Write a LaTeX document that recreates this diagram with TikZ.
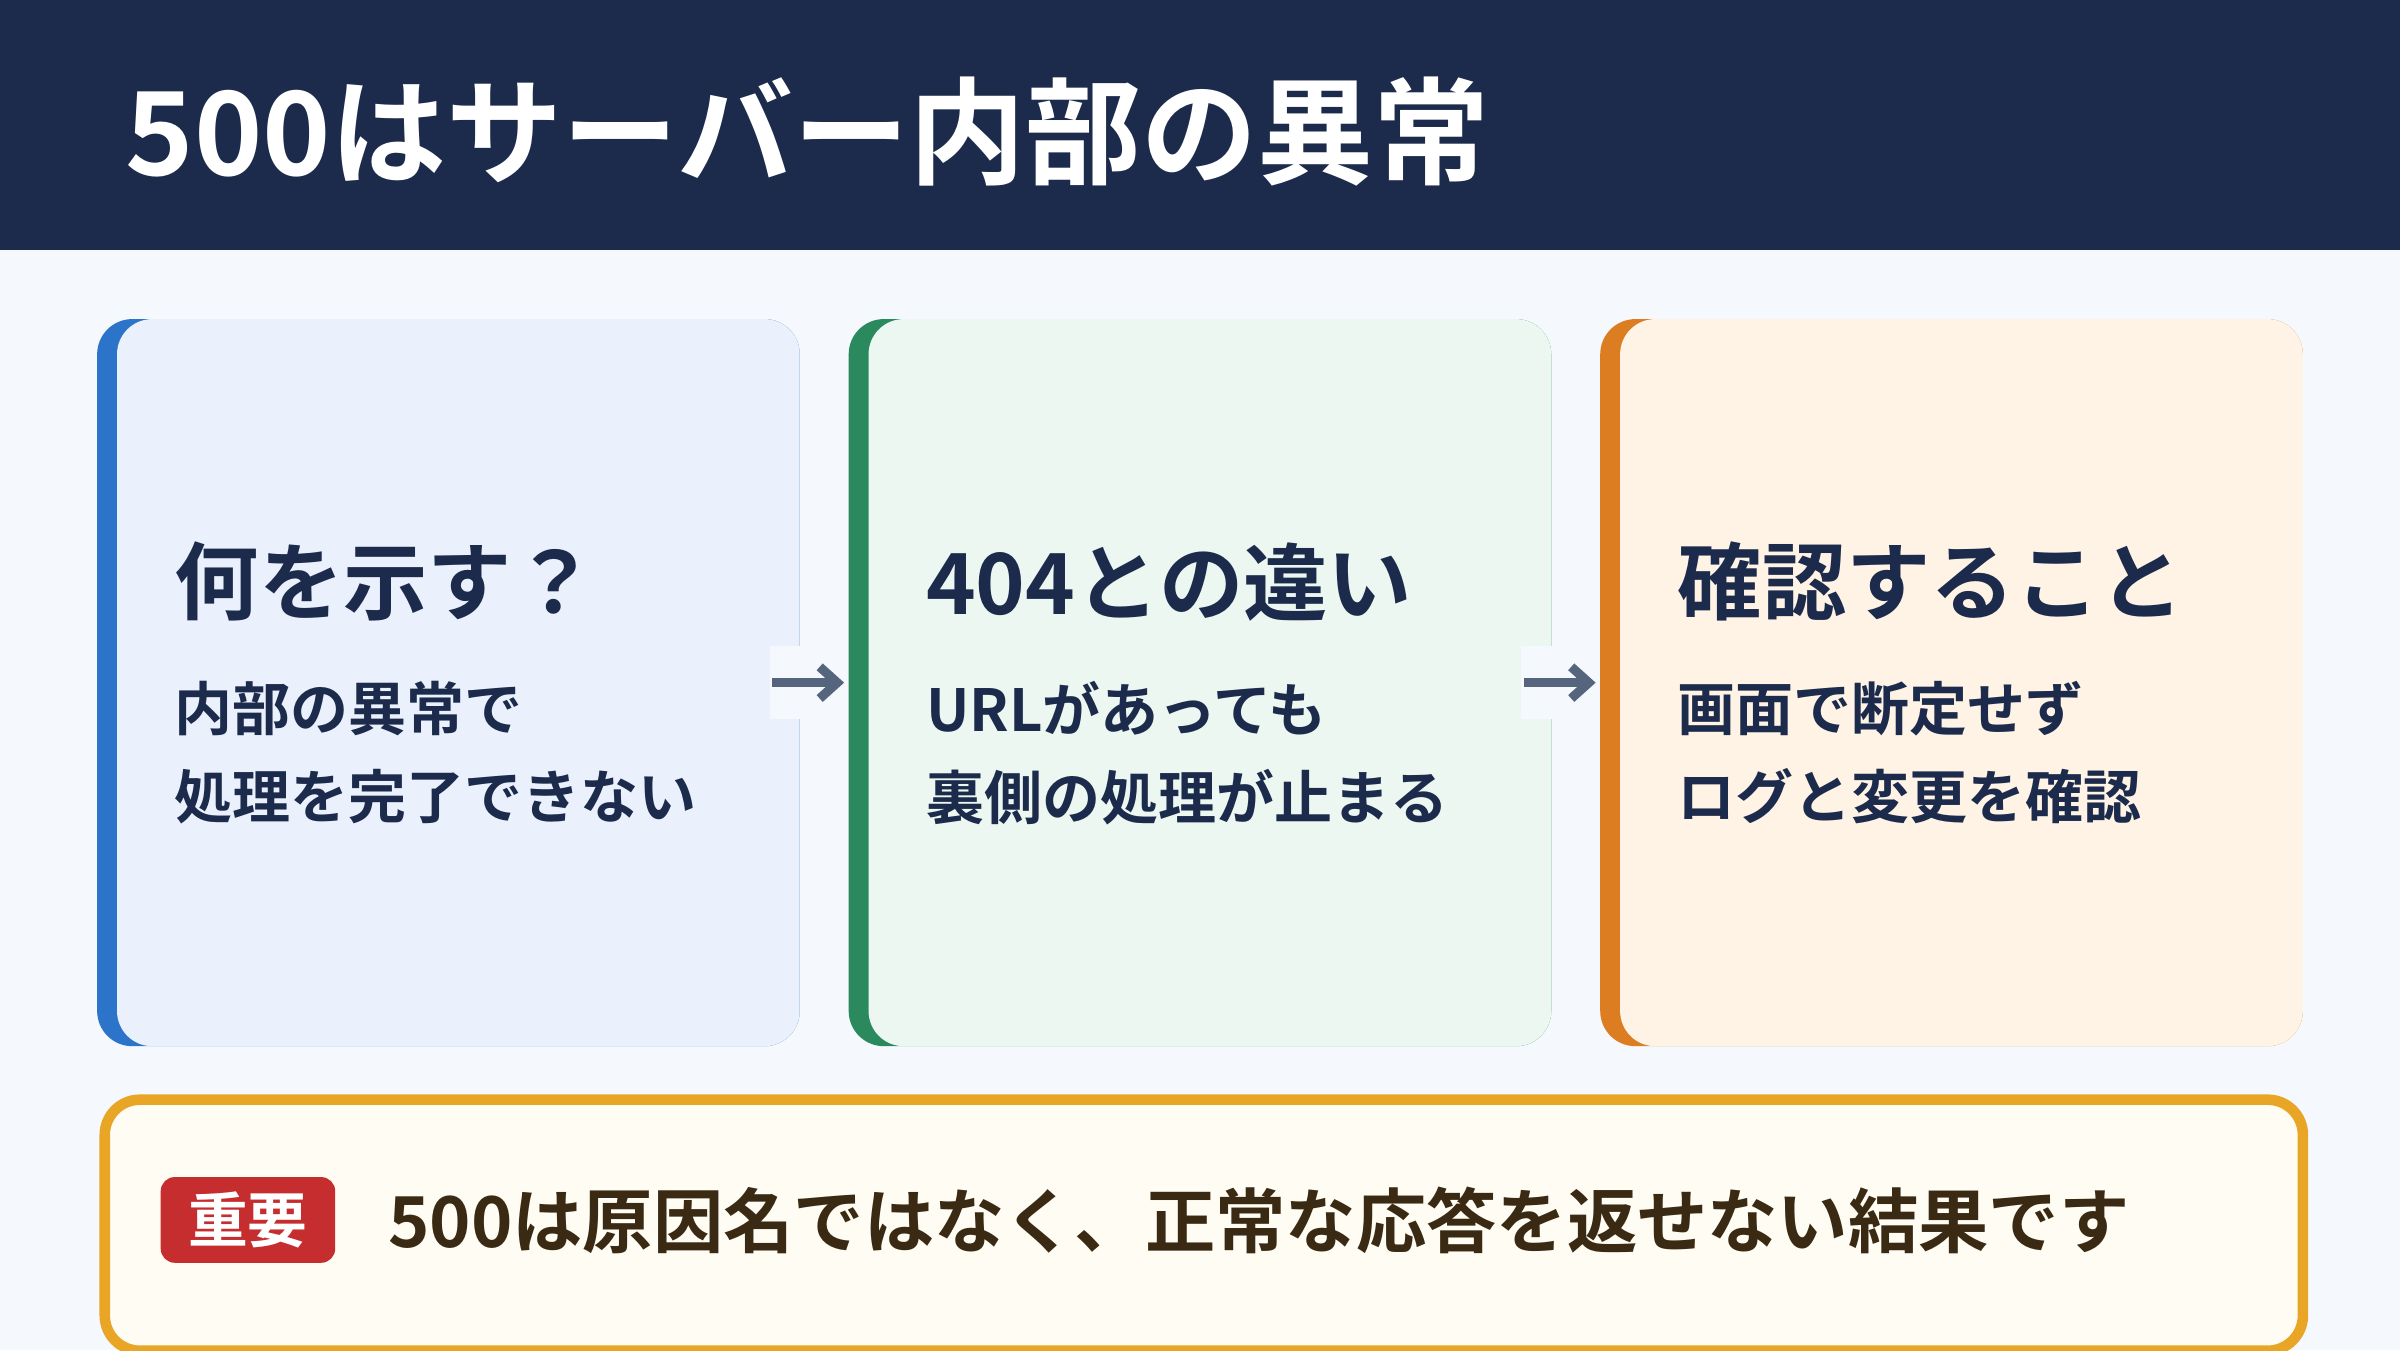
\documentclass[tikz,border=0pt]{standalone}
\usepackage{fontspec}
\setmainfont{Noto Sans CJK JP}[BoldFont={* Bold}]
\usetikzlibrary{positioning, arrows.meta}
\definecolor{navy}{HTML}{1C2B4B}
\definecolor{pagebg}{HTML}{F5F8FC}
\definecolor{blueA}{HTML}{2C74C9}\definecolor{blueF}{HTML}{EAF1FD}
\definecolor{greenA}{HTML}{2A8A5E}\definecolor{greenF}{HTML}{ECF7F1}
\definecolor{orangeA}{HTML}{DD7D22}\definecolor{orangeF}{HTML}{FEF3E4}
\definecolor{noteD}{HTML}{E8A526}\definecolor{noteF}{HTML}{FEFCF3}
\definecolor{badge}{HTML}{C62D2F}\definecolor{brownT}{HTML}{3A2A14}
\definecolor{arrowC}{HTML}{56657E}
\tikzset{
    accent/.style={rectangle, rounded corners=10pt, minimum width=459\pxu, minimum height=475\pxu, inner sep=0pt},
    card/.style={rectangle, rounded corners=10pt, minimum width=446\pxu, minimum height=475\pxu, inner sep=0pt},
    ctitle/.style={font=\bfseries\fontsize{24}{28}\selectfont, color=navy, anchor=west},
    cbody/.style={font=\bfseries\fontsize{16.5}{25}\selectfont, color=navy, anchor=north west, align=left},
    arr/.style={-{Straight Barb[length=5pt,width=9pt]}, line width=2.6pt, color=arrowC},
}
\newlength{\pxu}\setlength{\pxu}{0.15306mm}
\begin{document}
\begin{tikzpicture}[x=0.015306cm, y=-0.015306cm]
    \useasboundingbox (0,0) rectangle (1568,882);
    \fill[pagebg] (0,0) rectangle (1568,882);
    \fill[navy] (0,0) rectangle (1568,163);
    \node[anchor=west, text=white, font=\bfseries\fontsize{33}{38}\selectfont] (title) at (74,86) {500はサーバー内部の異常};

    % --- cards ---
    \node[accent, fill=blueA, anchor=north west] (b1) at (63,208) {};
    \node[card, fill=blueF, anchor=north east] (c1) at (b1.north east) {};
    \node[accent, fill=greenA, anchor=north west] (b2) at (554,208) {};
    \node[card, fill=greenF, anchor=north east] (c2) at (b2.north east) {};
    \node[accent, fill=orangeA, anchor=north west] (b3) at (1045,208) {};
    \node[card, fill=orangeF, anchor=north east] (c3) at (b3.north east) {};

    \node[ctitle] (t1) at (106,380) {何を示す？};
    \node[cbody] (d1) at (106,437) {内部の異常で\\処理を完了できない};
    \node[ctitle] (t2) at (597,380) {404との違い};
    \node[cbody] (d2) at (597,437) {URLがあっても\\裏側の処理が止まる};
    \node[ctitle] (t3) at (1088,380) {確認すること};
    \node[cbody] (d3) at (1088,437) {画面で断定せず\\ログと変更を確認};

    % --- arrows between cards ---
    \node[fill=pagebg, minimum width=50\pxu, minimum height=48\pxu, inner sep=0pt] (g1) at (528,446) {};
    \node[fill=pagebg, minimum width=50\pxu, minimum height=48\pxu, inner sep=0pt] (g2) at (1019,446) {};
    \draw[arr] ([xshift=2\pxu]g1.west) -- ([xshift=-2\pxu]g1.east);
    \draw[arr] ([xshift=2\pxu]g2.west) -- ([xshift=-2\pxu]g2.east);

    % --- note ---
    \node[draw=noteD, line width=3pt, fill=noteF, rounded corners=10pt, minimum width=1436\pxu, minimum height=164\pxu, anchor=north west] (note) at (65,715) {};
    \node[fill=badge, rounded corners=4pt, minimum width=114\pxu, minimum height=56\pxu, text=white, font=\bfseries\fontsize{17}{20}\selectfont] (imp) at (162,797) {重要};
    \node[right=26\pxu of imp, font=\bfseries\fontsize{20}{24}\selectfont, text=brownT] (msg) {500は原因名ではなく、正常な応答を返せない結果です};
\end{tikzpicture}
\end{document}
